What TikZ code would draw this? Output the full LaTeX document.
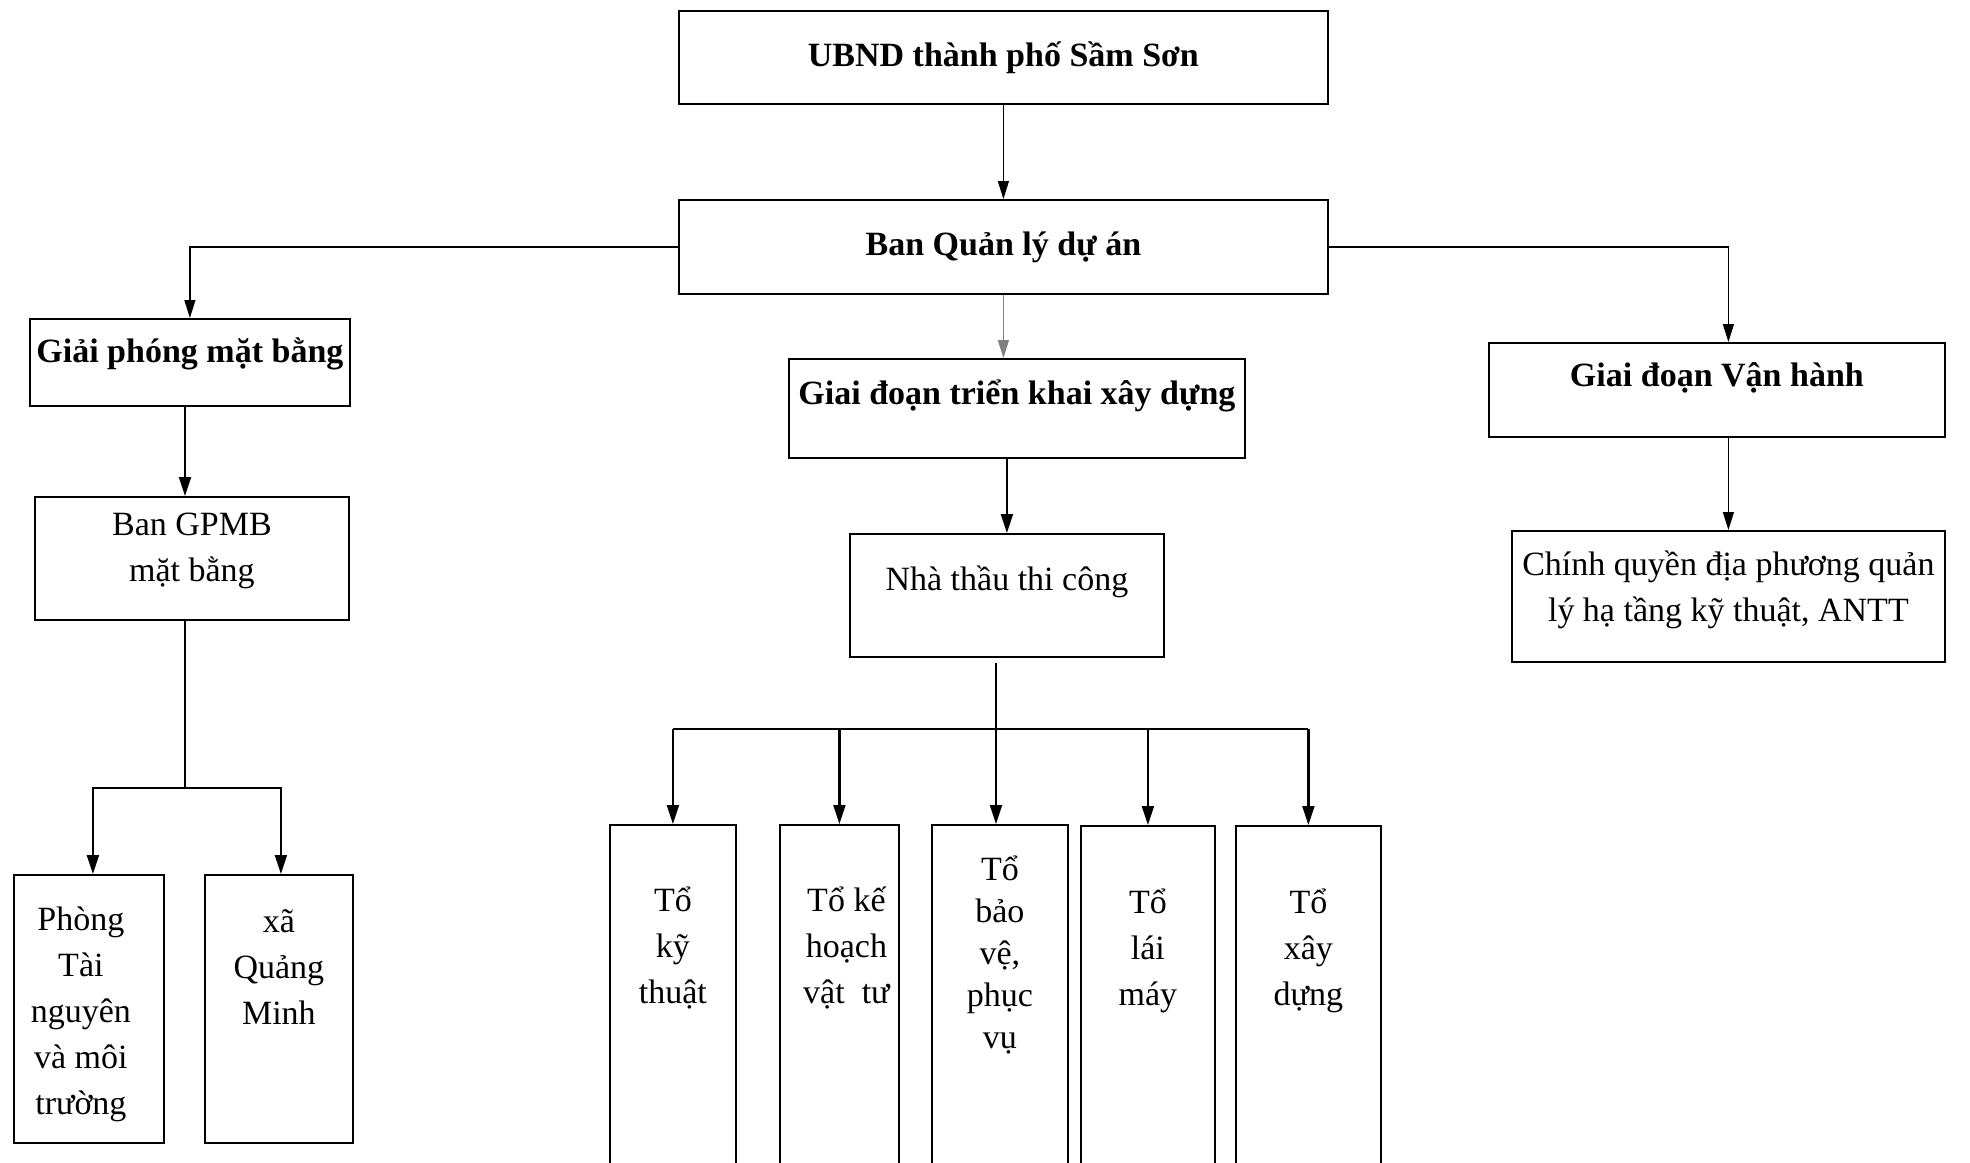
\documentclass[tikz,border=0pt]{standalone}
\usepackage{fontspec}
\setmainfont{Liberation Serif}
\usetikzlibrary{arrows.meta}

\begin{document}
\begin{tikzpicture}[
		x=0.5pt, y=-0.5pt,
		box/.style={draw, line width=0.9pt, anchor=north west, inner sep=0pt},
		sz/.style 2 args={minimum width=#1pt, minimum height=#2pt},
		txt/.style={font=\fontsize{17}{23}\selectfont, align=center, inner sep=0pt},
		head/.style={txt, font=\fontsize{17}{23}\selectfont\bfseries},
		thin line/.style={line width=0.7pt, -{Triangle[length=9pt,width=5.5pt]}},
		arr/.style={line width=1.1pt, -{Triangle[length=9.5pt,width=6pt]}}
		]
		\useasboundingbox (0,0) rectangle (1970,1162);
		\clip (0,0) rectangle (1970,1162);
		% top levels
		\node[box, sz={324.5}{46.5}, label={[head]center:{UBND thành phố Sầm Sơn}}] (ubnd) at (678,10) {};
		\node[box, sz={324.5}{47}, label={[head]center:{Ban Quản lý dự án}}] (qlda) at (678,199) {};
		\node[box, sz={160}{43.5}, label={[head, yshift=4.25pt]center:{Giải phóng mặt bằng}}] (gpmb) at (29,318) {};
		\node[box, sz={228}{49.5}, label={[head, yshift=6.5pt]center:{Giai đoạn triển khai xây dựng}}] (trienkhai) at (788,358) {};
		\node[box, sz={228}{47}, label={[head, yshift=6pt]center:{Giai đoạn Vận hành}}] (vanhanh) at (1488,342) {};
		% second level
		\node[box, sz={157}{61.5}, label={[txt, yshift=3.5pt]center:{Ban GPMB\\mặt bằng}}] (bangpmb) at (34,496) {};
		\node[box, sz={157}{61.5}, label={[txt, yshift=7pt]center:{Nhà thầu thi công}}] (nhathau) at (849,533) {};
		\node[box, sz={216.5}{65.5}, label={[txt, yshift=3.5pt]center:{Chính quyền địa phương quản\\lý hạ tầng kỹ thuật, ANTT}}] (chinhquyen) at (1511,530) {};
		% bottom boxes
		\node[box, sz={75}{134}, label={[txt, xshift=-4pt, yshift=-2.5pt]center:{Phòng\\Tài\\nguyên\\và môi\\trường}}] (phong) at (13,874) {};
		\node[box, sz={74}{134}, label={[txt, yshift=21pt]center:{xã\\Quảng\\Minh}}] (xa) at (204,874) {};
		\node[box, sz={63}{178}, label={[txt, yshift=27.5pt]center:{Tổ\\kỹ\\thuật}}] (tokt) at (609,824) {};
		\node[box, sz={59.5}{178}, label={[txt, xshift=3.5pt, yshift=27.5pt]center:{Tổ kế\\hoạch\\vật~ tư}}] (tokh) at (779,824) {};
		\node[box, sz={68}{178}, label={[txt, font=\fontsize{17}{21}\selectfont, yshift=24pt]center:{Tổ\\bảo\\vệ,\\phục\\vụ}}] (tobv) at (931,824) {};
		\node[box, sz={67}{177.5}, label={[txt, yshift=26.5pt]center:{Tổ\\lái\\máy}}] (tolm) at (1080,825) {};
		\node[box, sz={72.5}{177.5}, label={[txt, yshift=26.5pt]center:{Tổ\\xây\\dựng}}] (toxd) at (1235,825) {};
		% connectors
		\draw[thin line] (ubnd) -- (qlda);
		\draw[thin line] (qlda.west) -| (gpmb.north);
		\draw[thin line] (qlda.east) -| (vanhanh.north -| chinhquyen.north);
		\draw[thin line, gray] (qlda.south) -- (qlda.south |- trienkhai.north);
		\coordinate (gsplit) at (185,788);
		\draw[arr] (gpmb.south -| gsplit) -- (gsplit |- bangpmb.north);
		\draw[arr] (trienkhai.south -| nhathau.north) -- (nhathau.north);
		\draw[thin line] (vanhanh.south -| chinhquyen.north) -- (chinhquyen.north);
		\draw[line width=0.8pt] (bangpmb.south -| gsplit) -- (gsplit);
		\draw[arr] (gsplit) -| ([xshift=2pt]phong.north);
		\draw[arr] (gsplit) -| ([xshift=1pt]xa.north);
		\coordinate (bus) at (996,729);
		\draw[arr] ([yshift=-2.5pt]nhathau.south -| bus) -- (bus |- tobv.north);
		\draw[line width=1.1pt] (tokt.north |- bus) -- (toxd.north |- bus);
		\foreach \n in {tokt,tokh,tolm,toxd}
			\draw[arr] (\n.north |- bus) -- (\n.north);
\end{tikzpicture}
\end{document}
